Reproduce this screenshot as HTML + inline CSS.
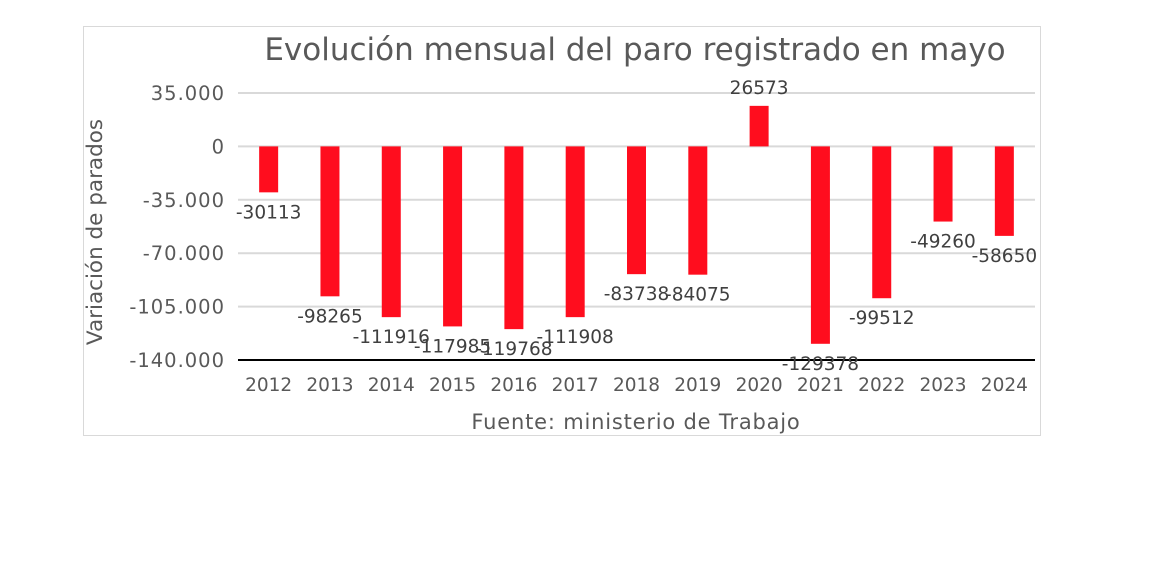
<!DOCTYPE html>
<html><head><meta charset="utf-8"><style>
html,body{margin:0;padding:0;background:#fff;}
svg text{font-family:"DejaVu Sans","Liberation Sans",sans-serif;}
</style></head><body>
<svg width="1174" height="558" viewBox="0 0 1174 558">
<rect x="83.5" y="26.5" width="957" height="409" fill="#fff" stroke="#d9d9d9"/>
<text x="635" y="60" font-size="31" fill="#595959" text-anchor="middle">Evolución mensual del paro registrado en mayo</text>
<g id="grid"></g><g id="bars"></g><g id="labels"></g>
<text transform="translate(102,232) rotate(-90)" font-size="21.5" fill="#595959" text-anchor="middle">Variación de parados</text>
<text x="636" y="429" font-size="21" fill="#595959" text-anchor="middle" letter-spacing="0.8">Fuente: ministerio de Trabajo</text>
</svg>
<script>
const categories=["2012","2013","2014","2015","2016","2017","2018","2019","2020","2021","2022","2023","2024"];
const values=[-30113,-98265,-111916,-117985,-119768,-111908,-83738,-84075,26573,-129378,-99512,-49260,-58650];
const ticks=[35000,0,-35000,-70000,-105000,-140000];
const tickLabels=["35.000","0","-35.000","-70.000","-105.000","-140.000"];
const NS="http://www.w3.org/2000/svg";
const plotL=238,plotR=1035,yMax=35000,yMin=-140000,yTop=93,yBot=360;
function y(v){return yTop+(yMax-v)/(yMax-yMin)*(yBot-yTop);}
const bw=(plotR-plotL)/categories.length;
function xc(i){return plotL+bw*(i+0.5);}
function mk(tag,attrs,parent,txt){const e=document.createElementNS(NS,tag);for(const k in attrs)e.setAttribute(k,attrs[k]);if(txt!==undefined)e.textContent=txt;parent.appendChild(e);return e;}
const grid=document.getElementById('grid'),bars=document.getElementById('bars'),labels=document.getElementById('labels');
ticks.forEach((t,i)=>{
  const last=i===ticks.length-1;
  const l=mk('line',{x1:plotL,x2:plotR,y1:y(t),y2:y(t),stroke:last?'#000':'#d9d9d9','stroke-width':2},grid);
  
  
  const tx=mk('text',{x:225,y:y(t)+7,'font-size':19.5,fill:'#595959','text-anchor':'end','letter-spacing':1},grid,tickLabels[i]);
  
  
});
categories.forEach((c,i)=>{
  const v=values[i],x=xc(i),top=Math.min(y(v),y(0)),h=Math.abs(y(v)-y(0));
  const r=mk('rect',{x:x-9.5,y:top,width:19,height:h,fill:'#ff0d1e'},bars);
  
  
  const ly=v<0?y(v)+26:y(v)-12;
  const t=mk('text',{x:x,y:ly,'font-size':18.5,fill:'#404040','text-anchor':'middle'},labels,String(v));
  
  
  const xt=mk('text',{x:x,y:391,'font-size':18.5,fill:'#595959','text-anchor':'middle'},labels,c);
  
  
});
</script>
</body></html>
